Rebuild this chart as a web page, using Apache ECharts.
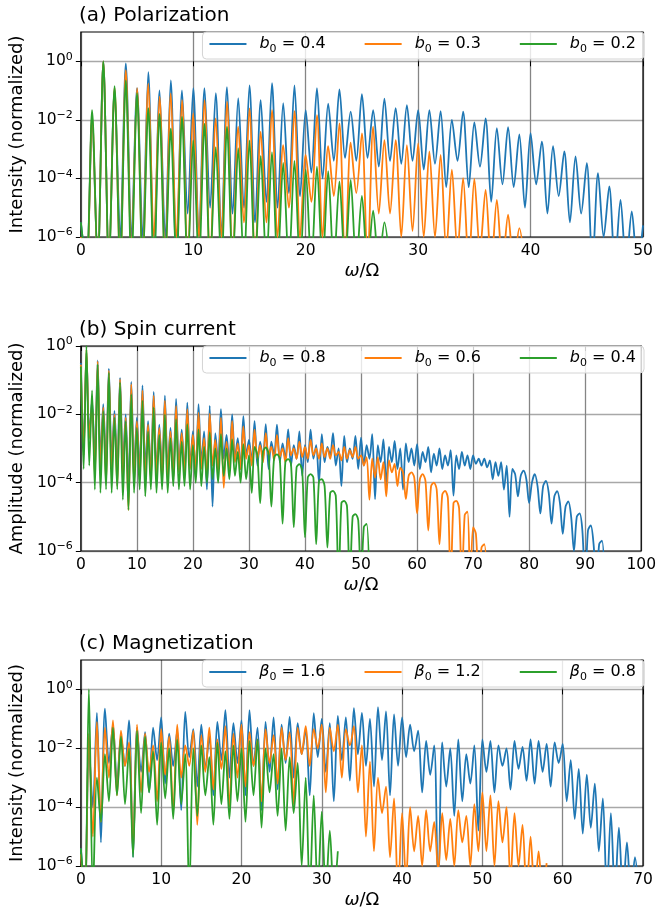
<!DOCTYPE html>
<html>
<head>
<meta charset="utf-8">
<script src="https://cdn.jsdelivr.net/npm/echarts@6.0.0/dist/echarts.min.js"></script>
<style>
  html, body { margin: 0; padding: 0; background: #fff; }
  #chart { width: 659px; height: 914px; }
</style>
</head>
<body>
<div id="chart"></div>
<script>
// every series is log10(normalized value) at omega/Omega = 0, 0.5, 1, ...
const step = 0.5

// (a) polarization, b0 = 0.4 / 0.3 / 0.2
const aBlue = [
  -5.5, -7, -2.0, -7, 0, -7, -0.95, -6, -0.07, -6,
  -0.92, -6, -0.37, -7, -0.99, -6, -0.65, -7, -0.99, -5.2,
  -0.92, -6, -0.92, -5, -1.09, -6, -0.88, -5.2, -1.26, -5,
  -0.82, -5.5, -1.33, -4.8, -0.75, -5, -1.43, -4.5, -0.82, -4.6,
  -1.67, -3.8, -0.92, -4, -1.45, -3.4, -0.96, -3.3, -1.72, -3.4,
  -1.12, -3.3, -1.67, -3.6, -1.28, -3.4, -1.6, -3.5, -1.5, -3.4,
  -1.67, -3.7, -1.67, -3.5, -1.7, -4.3, -2.0, -3.4, -1.72, -4.3,
  -2.09, -3.6, -1.95, -4.8, -2.28, -4.2, -2.25, -4.3, -2.5, -5.0,
  -2.45, -4.2, -2.74, -5.2, -2.9, -4.6, -3.08, -5.5, -3.25, -5.2,
  -3.48, -7, -3.82, -6, -4.27, -7, -4.73, -7, -5.13, -7,
  -5.6
]
const aOrange = [
  -6, -7, -1.9, -7, 0, -7, -0.9, -7, -0.3, -6.5,
  -0.92, -7, -0.76, -6, -1.21, -7, -1.1, -6, -1.33, -7,
  -1.78, -6, -1.33, -7, -1.95, -6, -1.38, -7, -2.23, -5.5,
  -1.61, -7, -2.4, -5.5, -1.67, -6, -2.86, -5, -1.7, -6,
  -3.2, -4.8, -1.84, -6, -2.9, -4.6, -2.12, -7, -2.78, -4.5,
  -2.46, -7, -2.23, -5.2, -2.69, -5.2, -2.69, -6, -2.86, -5.8,
  -2.8, -6, -3.08, -6, -3.2, -6.5, -3.7, -6.5, -3.99, -7,
  -4.02, -6.5, -4.39, -7, -4.73, -7, -5.24, -7, -5.7, -7
]
const aGreen = [
  -5.5, -7, -1.67, -7, 0, -7, -0.85, -7, -0.65, -7,
  -1.09, -7, -1.6, -7, -1.8, -7, -2.3, -7, -1.9, -7,
  -2.7, -7, -2.14, -7, -2.93, -7, -2.24, -7, -2.97, -7,
  -2.7, -7, -3.23, -7, -3.1, -7, -3.47, -7, -3.4, -7,
  -3.7, -7, -3.6, -7, -3.75, -7, -4.1, -7, -4.05, -7,
  -4.6, -7, -5.1, -7, -5.5, -7
]

// (b) spin current, b0 = 0.8 / 0.6 / 0.4
const bBlue = [
  -0.5, -3.0, -0.2, -2.6, -1.6, -3.4, -0.42, -3.3, -1.7, -3.5,
  -0.66, -3.4, -1.9, -3.6, -0.93, -3.5, -2.0, -4.2, -1.05, -3.6,
  -2.1, -3.7, -1.15, -3.6, -2.2, -3.8, -1.34, -3.7, -2.3, -3.8,
  -1.45, -3.6, -2.4, -3.8, -1.55, -3.5, -2.45, -3.7, -1.66, -3.5,
  -2.5, -3.8, -1.7, -3.4, -2.5, -4.2, -1.75, -4.7, -2.55, -3.4,
  -1.85, -3.3, -2.6, -3.5, -2.0, -3.3, -2.7, -3.6, -2.05, -3.2,
  -2.75, -3.4, -2.2, -3.5, -2.8, -3.3, -2.29, -3.6, -2.8, -3.2,
  -2.3, -3.4, -2.85, -3.3, -2.44, -3.5, -2.9, -3.3, -2.5, -3.8,
  -2.9, -3.4, -2.45, -3.3, -2.9, -4.0, -2.58, -3.4, -2.95, -3.2,
  -2.55, -3.5, -3.0, -4.1, -2.63, -3.4, -3.0, -3.3, -2.63, -3.6,
  -2.68, -3.5, -2.9, -3.3, -2.58, -4.48, -2.9, -3.4, -2.73, -4.1,
  -2.95, -3.4, -2.78, -3.6, -3.0, -4.2, -2.85, -3.4, -3.0, -3.5,
  -2.87, -3.6, -3.1, -3.4, -2.95, -3.7, -3.15, -3.5, -3.0, -3.6,
  -3.2, -3.5, -3.05, -4.38, -3.2, -3.6, -3.1, -3.5, -3.2, -3.6,
  -3.2, -3.45, -3.3, -3.5, -3.3, -3.55, -3.35, -3.9, -3.4, -3.8,
  -3.4, -4.2, -3.5, -5.0, -3.6, -3.75, -4.4, -3.8, -3.65, -3.9,
  -4.6, -4.0, -3.75, -4.1, -4.9, -4.1, -3.95, -4.3, -5.2, -4.4,
  -4.25, -4.6, -5.5, -4.7, -4.55, -5.0, -6, -5.0, -4.9, -5.4,
  -7, -5.4, -5.25, -5.8, -7, -5.8, -5.7, -7
]
const bOrange = [
  -0.55, -3.2, -0.1, -2.7, -1.7, -3.8, -0.45, -3.6, -1.8, -4.0,
  -0.72, -3.7, -2.0, -4.1, -0.97, -3.9, -2.1, -4.8, -1.12, -4.0,
  -2.2, -3.9, -1.3, -4.0, -2.3, -3.9, -1.45, -3.8, -2.4, -3.9,
  -1.6, -3.8, -2.5, -3.9, -1.75, -3.7, -2.55, -3.8, -1.85, -3.6,
  -2.6, -3.7, -1.95, -3.6, -2.7, -3.8, -1.98, -3.5, -2.75, -3.7,
  -2.1, -4.15, -2.8, -3.6, -2.2, -3.4, -2.85, -3.6, -2.35, -3.3,
  -2.9, -3.5, -2.45, -3.3, -2.9, -3.4, -2.55, -3.2, -2.95, -3.35,
  -2.6, -3.25, -3.0, -3.4, -2.7, -3.2, -3.0, -3.3, -2.8, -3.25,
  -2.95, -3.3, -2.75, -3.2, -3.0, -3.3, -2.85, -3.25, -3.0, -3.3,
  -2.9, -3.2, -3.1, -3.35, -2.95, -3.3, -3.05, -3.25, -2.95, -3.3,
  -3.2, -3.5, -3.25, -4.5, -3.3, -3.85, -3.25, -3.9, -3.4, -4.4,
  -3.35, -3.7, -3.45, -4.1, -3.56, -3.7, -4.48, -3.8, -3.7, -3.85,
  -4.9, -3.9, -3.75, -3.95, -5.4, -4.1, -4.0, -4.2, -5.8, -4.35,
  -4.24, -4.45, -7, -4.6, -4.53, -4.75, -7, -4.95, -4.85, -7,
  -5.3, -5.5, -7, -5.9, -5.8, -7
]
const bGreen = [
  -0.6, -3.6, 0, -3.5, -1.3, -4.2, -0.53, -4.3, -1.9, -4.2,
  -0.78, -4.3, -2.1, -4.2, -1.07, -4.5, -2.2, -4.8, -1.41, -4.3,
  -2.4, -4.2, -1.6, -4.4, -2.5, -4.2, -1.8, -4.3, -2.6, -4.2,
  -2.0, -4.3, -2.7, -4.1, -2.14, -4.2, -2.8, -4.1, -2.29, -4.2,
  -2.9, -4.0, -2.44, -4.1, -2.95, -4.0, -2.53, -3.9, -3.0, -4.0,
  -2.58, -3.8, -3.0, -3.9, -2.73, -3.8, -3.1, -4.0, -2.87, -3.9,
  -3.2, -4.3, -2.95, -3.2, -4.6, -3.1, -2.97, -3.15, -4.7, -3.25,
  -3.17, -3.3, -5.2, -3.4, -3.31, -3.45, -5.3, -3.55, -3.46, -3.65,
  -5.6, -3.85, -3.75, -3.85, -5.8, -3.95, -3.9, -4.1, -5.9, -4.3,
  -4.24, -4.4, -7, -4.6, -4.53, -4.7, -7, -5.0, -4.92, -5.1,
  -7, -5.3, -5.21, -7
]

// (c) magnetization, beta0 = 1.6 / 1.2 / 0.8
const cBlue = [
  -5.4, -7, -2.0, -4.0, -0.8, -5.2, -0.65, -2.5, -1.2, -3.2,
  -1.6, -2.6, -1.05, -5.7, -1.3, -2.8, -1.45, -3.5, -1.3, -2.4,
  -0.95, -3.2, -1.5, -2.6, -1.4, -4.1, -0.76, -2.3, -1.35, -3.3,
  -1.2, -2.7, -1.6, -3.6, -1.1, -2.4, -0.7, -3.0, -1.15, -2.5,
  -1.05, -3.6, -0.7, -2.6, -1.3, -4.1, -1.1, -2.8, -0.95, -3.4,
  -1.2, -2.5, -0.93, -3.0, -1.15, -2.2, -1.4, -3.6, -0.81, -2.3,
  -1.0, -2.8, -1.15, -3.8, -0.9, -2.4, -0.95, -3.1, -0.64, -2.2,
  -0.8, -2.6, -1.0, -3.3, -0.6, -2.4, -0.75, -3.6, -0.85, -2.6,
  -0.95, -2.3, -1.2, -2.1, -1.4, -3.5, -1.75, -2.9, -1.9, -7,
  -1.8, -3.3, -2.0, -4.3, -1.7, -3.8, -2.2, -3.2, -1.9, -4.8,
  -1.7, -2.8, -1.75, -3.5, -1.9, -2.6, -2.0, -3.4, -1.75, -2.7,
  -1.95, -3.1, -1.7, -3.2, -1.75, -2.8, -1.85, -3.3, -1.8, -2.5,
  -1.85, -3.8, -2.4, -4.4, -2.7, -4.9, -2.9, -4.7, -3.2, -5.5,
  -3.7, -7, -4.2, -7, -4.7, -7, -5.2, -7, -5.7, -7
]
const cOrange = [
  -5.6, -7, -1.5, -5, -1.1, -4.5, -1.3, -3.0, -1.05, -3.6,
  -1.4, -2.6, -1.8, -5.5, -1.2, -3.5, -1.5, -2.8, -1.9, -3.8,
  -1.35, -2.9, -1.6, -4.2, -1.2, -3.0, -1.9, -2.6, -1.4, -4.6,
  -1.55, -2.8, -1.3, -3.4, -1.7, -2.7, -1.25, -4.0, -1.5, -3.0,
  -1.2, -3.3, -1.45, -2.6, -1.7, -3.8, -1.35, -2.5, -1.55, -3.2,
  -1.3, -2.4, -1.45, -3.9, -1.3, -2.2, -1.25, -2.6, -1.35, -2.0,
  -1.2, -3.5, -1.3, -2.1, -1.2, -3.0, -1.35, -1.9, -1.25, -3.5,
  -1.9, -5, -2.45, -5.5, -3.0, -4.2, -3.3, -5.7, -3.7, -7,
  -4.2, -6.5, -4.0, -5.5, -4.3, -6, -4.1, -5.5, -4.5, -6.2,
  -4.2, -5.8, -4.4, -6, -4.1, -5.2, -4.3, -6, -3.9, -5.5,
  -3.5, -5.5, -3.6, -6, -3.8, -5.2, -4.0, -6.5, -4.2, -6,
  -4.6, -7, -5.0, -7, -5.5, -7, -5.9
]
const cGreen = [
  -5.4, -7, 0, -7, -3.0, -4.5, -2.2, -3.8, -1.3, -3.6,
  -1.6, -3.9, -2.0, -5.7, -1.4, -4.2, -1.6, -3.5, -2.1, -4.6,
  -1.8, -3.7, -2.0, -4.4, -1.7, -3.9, -2.2, -7, -2.0, -4.3,
  -1.9, -3.6, -2.3, -4.6, -1.8, -3.9, -2.1, -4.4, -1.9, -3.8,
  -2.0, -4.5, -1.75, -3.6, -1.7, -4.7, -2.0, -3.5, -2.2, -4.3,
  -2.0, -4.8, -2.3, -4.2, -2.5, -6, -3.0, -7, -3.6, -7,
  -4.15, -7, -4.8, -7, -5.5
]

const legendA = ['0.4', '0.3', '0.2']
const legendB = ['0.8', '0.6', '0.4']
const legendC = ['1.6', '1.2', '0.8']
const yTicks = [-6, -4, -2, 0]

const FONT = 'DejaVu Sans'
const colors = ['#1f77b4', '#ff7f0e', '#2ca02c']

const panels = [
  { key: 'a', title: '(a) Polarization', ylabel: 'Intensity (normalized)', xmax: 50, ymax: 1,
    top: 32, height: 205, titleTop: 6, sym: 'b', legend: legendA, data: [aBlue, aOrange, aGreen] },
  { key: 'b', title: '(b) Spin current', ylabel: 'Amplitude (normalized)', xmax: 100, ymax: 0,
    top: 346, height: 205, titleTop: 320, sym: 'b', legend: legendB, data: [bBlue, bOrange, bGreen] },
  { key: 'c', title: '(c) Magnetization', ylabel: 'Intensity (normalized)', xmax: 70, ymax: 1,
    top: 660, height: 206, titleTop: 634, sym: 'β', legend: legendC, data: [cBlue, cOrange, cGreen] }
]

const toPoints = arr => arr.map((v, i) => [i * step, v])

const option = {
  animation: false,
  backgroundColor: '#fff',
  textStyle: { fontFamily: FONT, color: '#000' },
  title: [], grid: [], xAxis: [], yAxis: [], legend: [], series: []
}

panels.forEach((p, g) => {
  option.title.push({
    text: p.title, left: 79, top: p.titleTop, padding: 0,
    textStyle: { fontFamily: FONT, fontSize: 20, fontWeight: 'normal', color: '#000' }
  })
  option.grid.push({
    left: 79, top: p.top, width: 564, height: p.height,
    show: true, borderColor: '#000', borderWidth: 1.2, backgroundColor: 'transparent', z: 3
  })
  option.xAxis.push({
    gridIndex: g, type: 'value', min: 0, max: p.xmax, interval: 10,
    axisLine: { show: false },
    axisTick: { show: true, length: 5, lineStyle: { color: '#000', width: 1 } },
    axisLabel: { color: '#000', fontFamily: FONT, fontSize: 15.5, margin: 6 },
    splitLine: { show: true, lineStyle: { color: '#858585', width: 1.3 } },
    name: '{i|ω}{t|/Ω}', nameLocation: 'middle', nameGap: 25,
    nameTextStyle: {
      rich: {
        i: { fontFamily: FONT, fontStyle: 'italic', fontSize: 18, color: '#000' },
        t: { fontFamily: FONT, fontSize: 18, color: '#000' }
      }
    }
  })
  option.yAxis.push({
    gridIndex: g, type: 'value', min: -6, max: p.ymax, interval: 2,
    axisLine: { show: false },
    axisTick: { show: true, length: 5, customValues: yTicks, lineStyle: { color: '#000', width: 1 } },
    axisLabel: {
      customValues: yTicks, margin: 8,
      formatter: v => '{b|10}{p|' + (v < 0 ? '\u2212' + (-v) : String(v)) + '}',
      rich: {
        b: { fontFamily: FONT, fontSize: 15.5, lineHeight: 20, color: '#000' },
        p: { fontFamily: FONT, fontSize: 11, lineHeight: 12, verticalAlign: 'top', color: '#000' }
      }
    },
    splitLine: { show: true, lineStyle: { color: '#a8a8a8', width: 1.3 } },
    name: p.ylabel, nameLocation: 'middle', nameGap: 53,
    nameTextStyle: { fontFamily: FONT, fontSize: 18, color: '#000' }
  })
  const names = p.data.map((_, k) => p.key + k)
  option.legend.push({
    data: names, right: 15, top: p.top, orient: 'horizontal',
    icon: 'rect', itemWidth: 37, itemHeight: 2, itemGap: 39,
    padding: [4, 8, 4, 7],
    backgroundColor: 'rgba(255,255,255,0.8)', borderColor: '#d4d4d4', borderWidth: 1, borderRadius: 4,
    formatter: name => '{i|' + p.sym + '}{s|0}{t| = ' + p.legend[names.indexOf(name)] + '}',
    textStyle: {
      padding: [0, 0, 0, 8],
      rich: {
        i: { fontFamily: FONT, fontStyle: 'italic', fontSize: 16, lineHeight: 22, color: '#000' },
        s: { fontFamily: FONT, fontSize: 11, lineHeight: 12, verticalAlign: 'bottom', color: '#000' },
        t: { fontFamily: FONT, fontSize: 16, lineHeight: 22, color: '#000' }
      }
    }
  })
  p.data.forEach((arr, k) => {
    option.series.push({
      name: names[k], type: 'line', xAxisIndex: g, yAxisIndex: g,
      data: toPoints(arr), showSymbol: false, symbol: 'none', smooth: 0.3,
      color: colors[k], lineStyle: { color: colors[k], width: 1.8 }, clip: true
    })
  })
})

const chart = echarts.init(document.getElementById('chart'), null, { renderer: 'canvas' })
chart.setOption(option)
</script>
</body>
</html>
